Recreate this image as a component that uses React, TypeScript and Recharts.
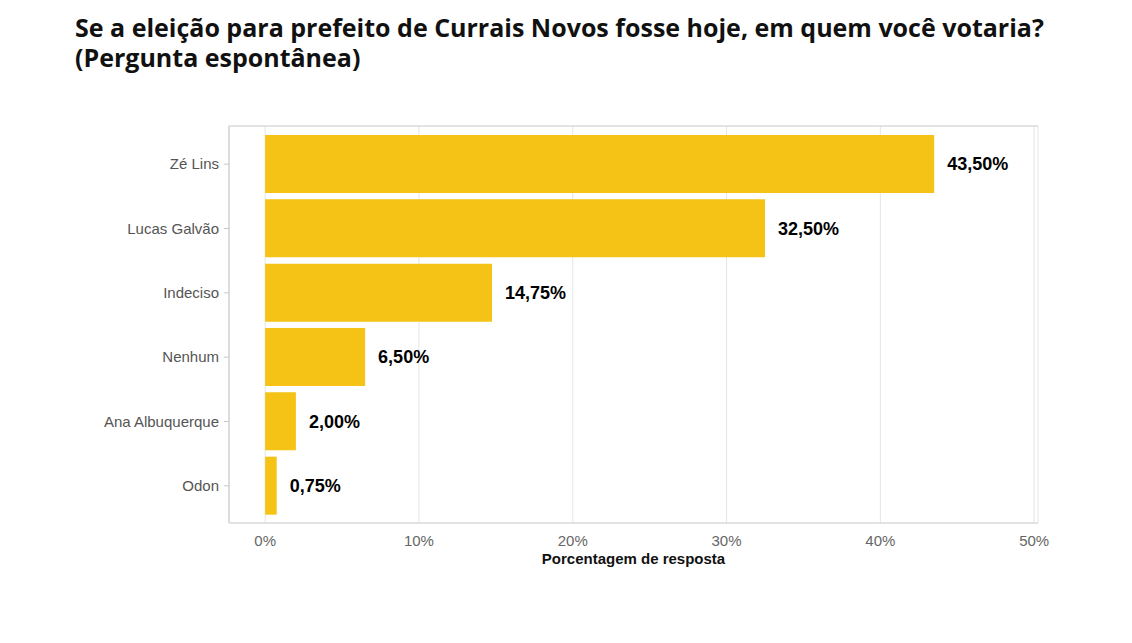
import { BarChart, Bar, XAxis, YAxis, CartesianGrid, LabelList } from "recharts";

const candidates = ["Zé Lins", "Lucas Galvão", "Indeciso", "Nenhum", "Ana Albuquerque", "Odon"];
const shares = [43.5, 32.5, 14.75, 6.5, 2.0, 0.75];
const xTicks = [0, 10, 20, 30, 40, 50];
const titleLines = [
  "Se a eleição para prefeito de Currais Novos fosse hoje, em quem você votaria?",
  "(Pergunta espontânea)",
];

const data = candidates.map((name, i) => ({ name, value: shares[i] }));

const fmtPct = (v: number) => `${v.toFixed(2).replace(".", ",")}%`;
const border = "#c8c8c8";

export default function App() {
  return (
    <div
      style={{
        position: "absolute",
        left: 0,
        top: 0,
        width: 1132,
        height: 643,
        background: "#fff",
        fontFamily: "Liberation Sans, Arial, sans-serif",
      }}
    >
      {titleLines.map((line, i) => (
        <div
          key={line}
          style={{
            position: "absolute",
            left: 75,
            top: 14 + i * 30,
            height: 28,
            fontFamily: "Open Sans, sans-serif",
            fontWeight: 700,
            fontSize: 25,
            lineHeight: "26px",
            color: "#111",
            whiteSpace: "nowrap",
          }}
        >
          {line}
        </div>
      ))}
      <BarChart
        width={1132}
        height={643}
        data={data}
        layout="vertical"
        margin={{ top: 125, right: 94, bottom: 70, left: 0 }}
        style={{ position: "absolute", left: 0, top: 0 }}
      >
        <CartesianGrid horizontal={false} stroke="#e5e5e5" />
        <XAxis
          type="number"
          domain={[-2.35, 50.25]}
          ticks={xTicks}
          allowDataOverflow
          tickFormatter={(v) => `${v}%`}
          tick={{ fill: "#666", fontSize: 15 }}
          tickLine={false}
          tickMargin={6}
          axisLine={{ stroke: border }}
          height={50}
          label={{
            value: "Porcentagem de resposta",
            position: "insideBottom",
            offset: 9,
            fill: "#111",
            fontSize: 15,
            fontWeight: 700,
          }}
        />
        <XAxis
          xAxisId="top"
          orientation="top"
          type="number"
          domain={[0, 1]}
          tick={false}
          tickLine={false}
          axisLine={{ stroke: border }}
          height={1}
        />
        <YAxis
          type="category"
          dataKey="name"
          width={229}
          padding={{ top: 6, bottom: 5 }}
          tick={{ fill: "#555", fontSize: 15 }}
          tickLine={{ stroke: border }}
          tickSize={5}
          tickMargin={5}
          axisLine={{ stroke: border }}
        />
        <YAxis
          yAxisId="right"
          orientation="right"
          type="number"
          domain={[0, 1]}
          tick={false}
          tickLine={false}
          axisLine={{ stroke: border }}
          width={0}
        />
        <Bar dataKey="value" fill="#F5C216" barSize={58} isAnimationActive={false}>
          <LabelList
            dataKey="value"
            position="right"
            offset={13}
            formatter={(v: number) => fmtPct(v)}
            fill="#000"
            fontSize={18}
            fontWeight={700}
          />
        </Bar>
      </BarChart>
    </div>
  );
}
